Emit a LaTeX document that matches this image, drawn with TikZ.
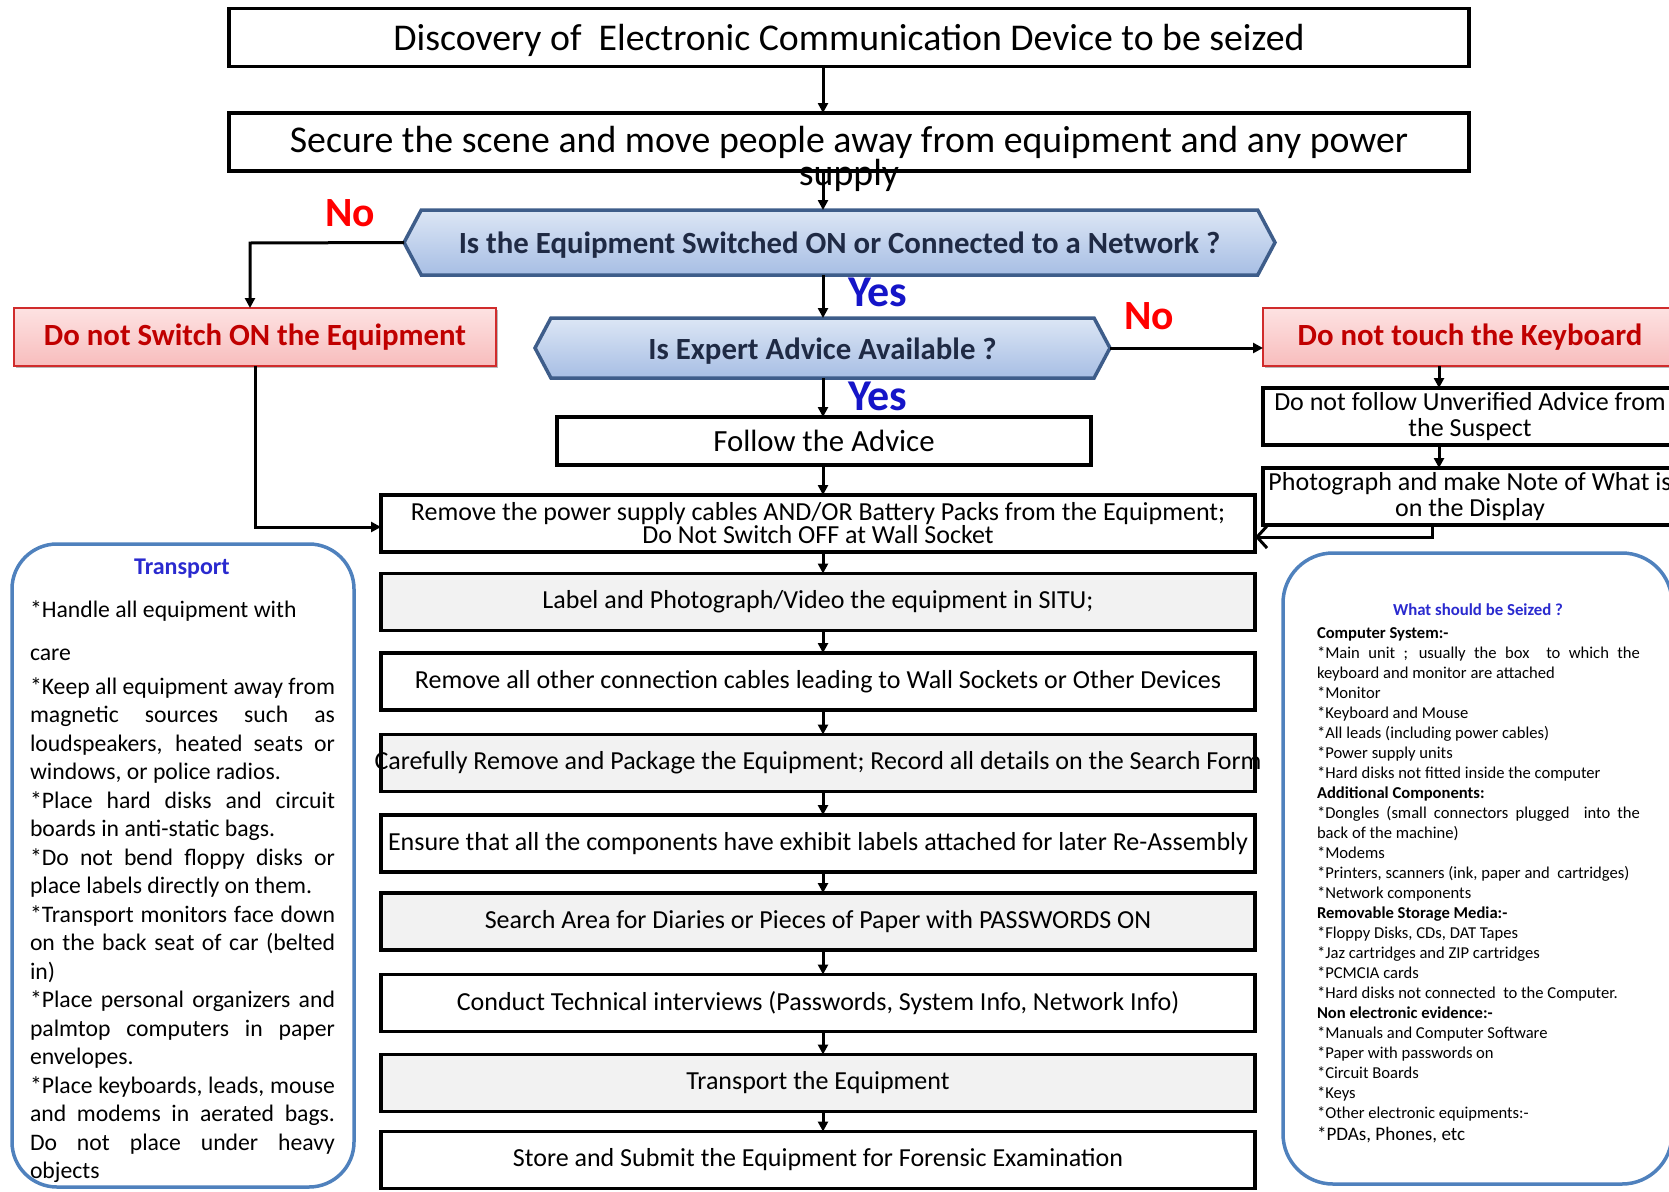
\documentclass[tikz,border=0pt]{standalone}
\usepackage{fontspec}
\setmainfont{Carlito}
\usetikzlibrary{arrows.meta,shapes.symbols,shadows}
\definecolor{hexborder}{HTML}{3E5D8A}
\definecolor{hextop}{HTML}{DCE6F5}
\definecolor{hexbot}{HTML}{A7BEE4}
\definecolor{hextext}{HTML}{1F2A44}
\definecolor{redborder}{HTML}{D02C2C}
\definecolor{redtop}{HTML}{FDE2E2}
\definecolor{redbot}{HTML}{F8BDBD}
\definecolor{redtext}{HTML}{C00000}
\definecolor{yesblue}{HTML}{1515C8}
\definecolor{nored}{HTML}{FF0000}
\definecolor{roundblue}{HTML}{4F81BD}
\definecolor{titleblue}{HTML}{2A2ACF}
\definecolor{grayfill}{HTML}{F2F2F2}
\newcommand{\lowertext}[2]{\raisebox{-#1}[\height][\depth]{#2}}
\begin{document}
\begin{tikzpicture}[x=1pt,y=-1pt,
  every node/.style={inner sep=0pt, outer sep=0pt},
  shad/.style={drop shadow={shadow xshift=1.5pt, shadow yshift=-1.5pt, fill=black!60, opacity=0.45}},
  flowbox/.style={shad, draw=black, line width=3.5pt, fill=white, minimum width=874pt, minimum height=57pt, font=\fontsize{26}{23}\selectfont, align=center},
  graybox/.style={flowbox, fill=grayfill},
  topbox/.style={flowbox, minimum width=1240pt, minimum height=58pt, font=\fontsize{37.8}{38}\selectfont},
  sidebox/.style={flowbox, minimum width=414pt, font=\fontsize{26}{26}\selectfont},
  redbox/.style={shad, draw=redborder, line width=2pt, top color=redtop, bottom color=redbot, text=redtext, font=\bfseries\fontsize{30.8}{31}\selectfont, minimum height=58pt},
  hexnode/.style={shape=signal, signal to=west and east, signal pointer angle=124, draw=hexborder, line width=3.5pt, top color=hextop, bottom color=hexbot, text=hextext, font=\bfseries\fontsize{30.8}{31}\selectfont},
  yeslab/.style={text=yesblue, font=\bfseries\fontsize{44}{46}\selectfont},
  nolab/.style={text=nored, font=\bfseries\fontsize{41.6}{44}\selectfont},
  roundbox/.style={draw=roundblue, line width=3.5pt, rounded corners=45pt, fill=white},
  arr/.style={line width=3pt, -{Triangle[length=10pt,width=10pt]}},
  openarr/.style={line width=3pt, -{Straight Barb[length=10pt,width=22pt]}}
]
\useasboundingbox (0,0) rectangle (1669,1191);

% top boxes
\node[topbox] (t1) at (849,37.5) {\lowertext{3pt}{Discovery of\ \ Electronic Communication Device to be seized}};
\node[topbox] (t2) at (849,142) {Secure the scene and move people away from equipment and any power};
\node[font=\fontsize{37.8}{38}\selectfont] (sup) at (849,175) {supply};

% decisions
\node[hexnode, minimum width=871pt, minimum height=65pt] (d1) at (839.5,242.5) {\lowertext{3pt}{Is the Equipment Switched ON or Connected to a Network ?}};
\node[hexnode, minimum width=575pt, minimum height=60pt] (d2) at (822.5,348) {\lowertext{3.5pt}{Is Expert Advice Available ?}};

% labels
\node[nolab] (no1) at (350,213) {No};
\node[nolab] (no2) at (1149,316) {No};
\node[yeslab] (yes1) at (878,292) {Yes};
\node[yeslab] (yes2) at (878,396) {Yes};

% red boxes
\node[redbox, minimum width=482pt] (dns) at (255,337) {Do not Switch ON the Equipment};
\node[redbox, minimum width=414pt] (kb) at (1470,337) {Do not touch the Keyboard};

% right side boxes
\node[sidebox] (unv) at (1470,416.5) {Do not follow Unverified Advice from\\the Suspect};
\node[sidebox] (ph) at (1470,496.5) {Photograph and make Note of What is\\on the Display};

% follow
\node[flowbox, minimum width=534pt, minimum height=48pt, font=\fontsize{30.8}{31}\selectfont] (fol) at (824,441) {Follow the Advice};

% main chain
\node[flowbox] (rm) at (818,523.5) {Remove the power supply cables AND/OR Battery Packs from the Equipment;\\Do Not Switch OFF at Wall Socket};
\node[graybox] (lab) at (818,602) {Label and Photograph/Video the equipment in SITU;};
\node[flowbox] (oth) at (818,681.5) {Remove all other connection cables leading to Wall Sockets or Other Devices};
\node[graybox] (car) at (818,763) {\makebox[874pt][c]{Carefully Remove and Package the Equipment; Record all details on the Search Form}};
\node[flowbox] (ens) at (818,843.5) {\makebox[874pt][c]{Ensure that all the components have exhibit labels attached for later Re-Assembly}};
\node[graybox] (sea) at (818,921.5) {Search Area for Diaries or Pieces of Paper with PASSWORDS ON};
\node[flowbox] (con) at (818,1003) {Conduct Technical interviews (Passwords, System Info, Network Info)};
\node[graybox] (tra) at (818,1083) {Transport the Equipment};
\node[flowbox] (sto) at (818,1160) {Store and Submit the Equipment for Forensic Examination};

% connectors
\coordinate (ax) at (823,0);
\draw[arr] (t1.south -| ax) -- (t2.north -| ax);
\draw[arr] (t2.south -| ax) -- (d1.north -| ax);
\draw[arr] (d1.south -| ax) -- (d2.north -| ax);
\draw[arr] (d2.south -| ax) -- (fol.north -| ax);
\draw[arr] (fol.south -| ax) -- (rm.north -| ax);
\draw[arr] (rm.south -| ax) -- (lab.north -| ax);
\draw[arr] (lab.south -| ax) -- (oth.north -| ax);
\draw[arr] (oth.south -| ax) -- (car.north -| ax);
\draw[arr] (car.south -| ax) -- (ens.north -| ax);
\draw[arr] (ens.south -| ax) -- (sea.north -| ax);
\draw[arr] (sea.south -| ax) -- (con.north -| ax);
\draw[arr] (con.south -| ax) -- (tra.north -| ax);
\draw[arr] (tra.south -| ax) -- (sto.north -| ax);

\coordinate (k1) at (250,243);
\draw[arr] (d1.west) -- (k1) -- (k1 |- dns.north);
\coordinate (k2) at (255,527);
\draw[arr] (dns.south -| k2) -- (k2) -- (k2 -| rm.west);
\draw[arr] (d2.east) -- (kb.west |- d2.east);
\coordinate (rx) at (1439,0);
\draw[arr] (kb.south -| rx) -- (unv.north -| rx);
\draw[arr] (unv.south -| rx) -- (ph.north -| rx);
\coordinate (k3) at (1432,537);
\draw[openarr] (ph.south -| k3) -- (k3) -- (k3 -| rm.east);

% transport box
\node[roundbox, minimum width=342pt, minimum height=643pt] (tb) at (183,865.5) {};
\node[text=titleblue, font=\bfseries\fontsize{24}{26}\selectfont] (tbt) at (182,569) {Transport};
\node[font=\fontsize{23.7}{28.5}\selectfont, align=left, anchor=north west] (tbx) at (30,601) {%
*Handle all equipment with\\[14pt]
care\\[5.5pt]
\makebox[305pt][s]{*Keep all equipment away from}\\
\makebox[305pt][s]{magnetic sources such as}\\
\makebox[305pt][s]{loudspeakers, heated seats or}\\
windows, or police radios.\\
\makebox[305pt][s]{*Place hard disks and circuit}\\
boards in anti-static bags.\\
\makebox[305pt][s]{*Do not bend floppy disks or}\\
place labels directly on them.\\
\makebox[305pt][s]{*Transport monitors face down}\\
\makebox[305pt][s]{on the back seat of car (belted}\\
in)\\
\makebox[305pt][s]{*Place personal organizers and}\\
\makebox[305pt][s]{palmtop computers in paper}\\
envelopes.\\
\makebox[305pt][s]{*Place keyboards, leads, mouse}\\
\makebox[305pt][s]{and modems in aerated bags.}\\
\makebox[305pt][s]{Do not place under heavy}\\
objects};

% seized box
\node[roundbox, rounded corners=50pt, minimum width=389pt, minimum height=631pt] (sb) at (1477.5,868.5) {};
\node[text=titleblue, font=\bfseries\fontsize{16.8}{18}\selectfont] (sbt) at (1478,610) {What should be Seized ?};
\node[font=\fontsize{16.6}{20}\selectfont, align=left, anchor=north west] (sbx) at (1317,628) {%
\textbf{Computer System:-}\\
\makebox[323pt][s]{*Main unit ; usually the box\ \ to which the}\\
keyboard and monitor are attached\\
*Monitor\\
*Keyboard and Mouse\\
*All leads (including power cables)\\
*Power supply units\\
*Hard disks not fitted inside the computer\\
\textbf{Additional Components:}\\
\makebox[323pt][s]{*Dongles (small connectors plugged\ \ into the}\\
back of the machine)\\
*Modems\\
*Printers, scanners (ink, paper and\ \ cartridges)\\
*Network components\\
\textbf{Removable Storage Media:-}\\
*Floppy Disks, CDs, DAT Tapes\\
*Jaz cartridges and ZIP cartridges\\
*PCMCIA cards\\
*Hard disks not connected\ \ to the Computer.\\
\textbf{Non electronic evidence:-}\\
*Manuals and Computer Software\\
*Paper with passwords on\\
*Circuit Boards\\
*Keys\\
*Other electronic equipments:-\\[1.5pt]
{\fontsize{19.1}{21}\selectfont *PDAs, Phones, etc}};
\end{tikzpicture}
\end{document}
